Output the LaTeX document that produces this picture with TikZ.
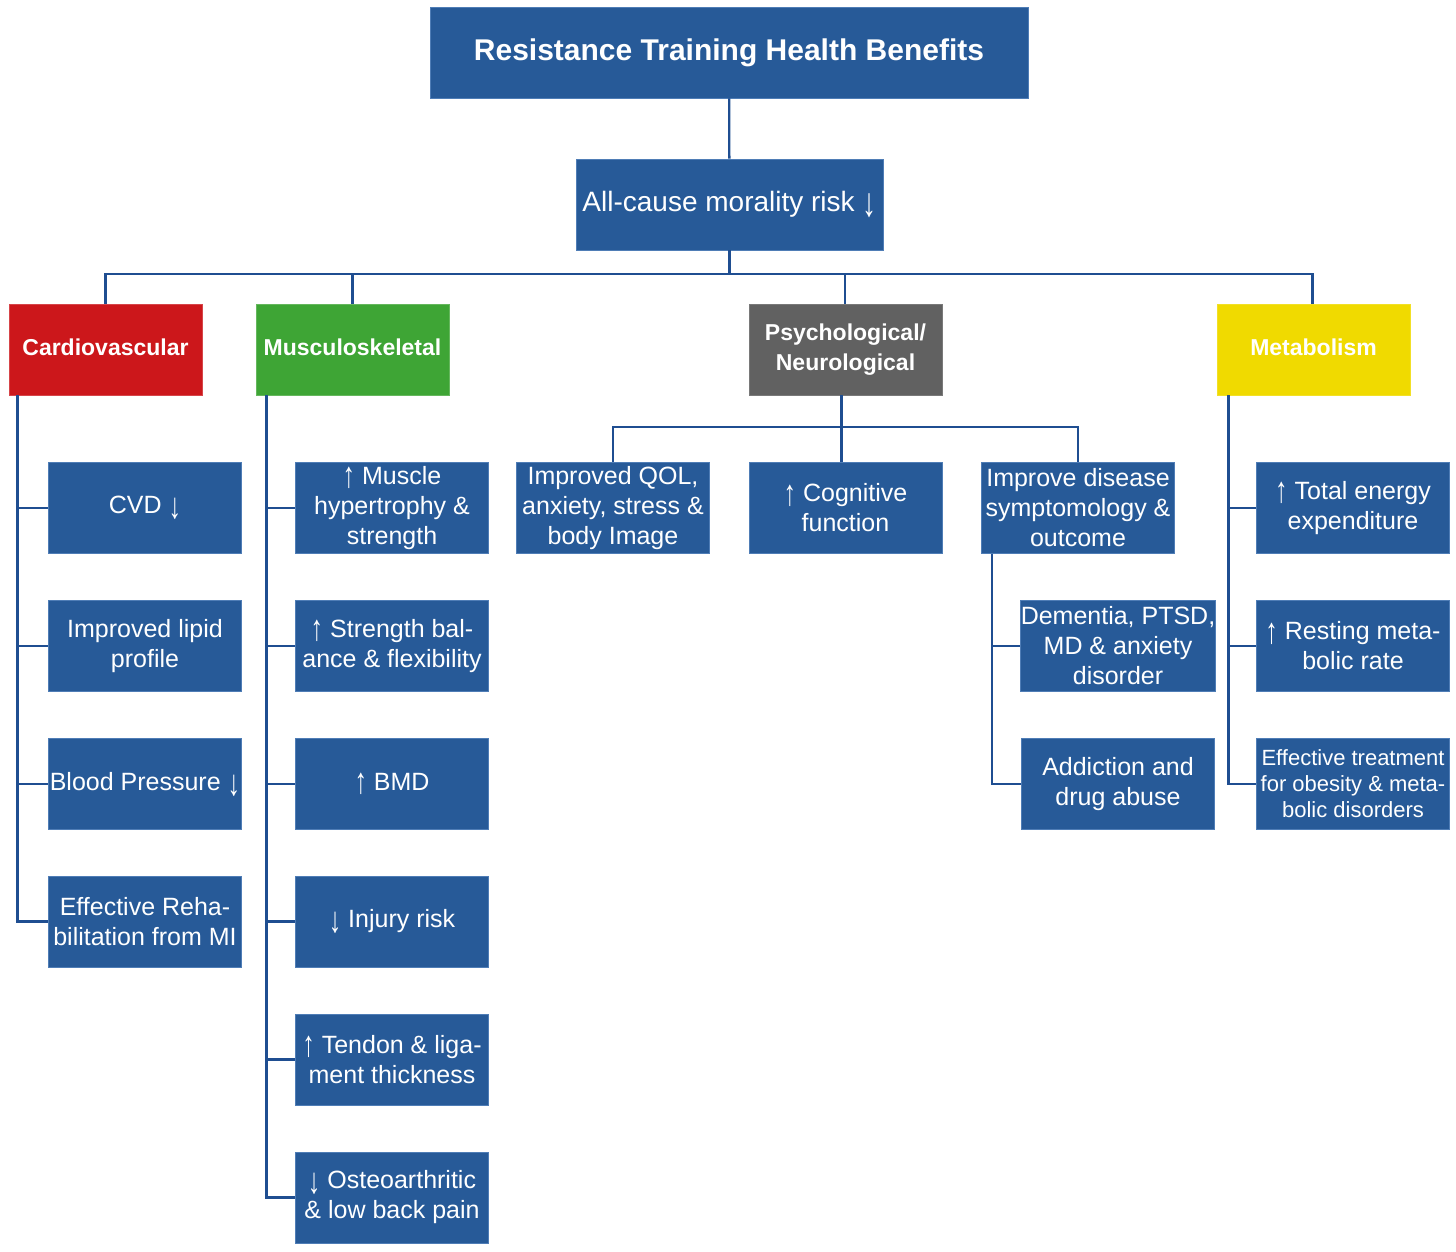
\documentclass[tikz,border=0pt]{standalone}
\usepackage{fontspec}
\usepackage{graphicx}
\setmainfont{Liberation Sans}
\newcommand\uparr{\raisebox{-0.14em}{\scalebox{1}[1.45]{↑}}}
\newcommand\dnarr{\raisebox{-0.2em}{\scalebox{1}[1.45]{↓}}}
\definecolor{boxblue}{HTML}{275A98}
\definecolor{boxedge}{HTML}{4F7DB6}
\definecolor{lineblue}{HTML}{1F4E91}
\definecolor{cvred}{HTML}{CC171B}
\definecolor{msgreen}{HTML}{3EA535}
\definecolor{psgray}{HTML}{616161}
\definecolor{mtyellow}{HTML}{F0DA00}
\begin{document}
\begin{tikzpicture}[x=1pt,y=-1pt,
  box/.style={rectangle, fill=boxblue, draw=boxedge, line width=0.8pt,
    minimum width=193pt, minimum height=91pt, inner sep=0pt, text=white,
    align=center, font=\fontsize{25}{30}\selectfont},
  smallbox/.style={box, font=\fontsize{22}{26}\selectfont},
  cat/.style={box, font=\bfseries\fontsize{23}{30}\selectfont},
  conn/.style={draw=lineblue, line width=2.3pt}]
\useasboundingbox (0,0) rectangle (1456,1252);

% top
\node[box, minimum width=598pt, font=\bfseries\fontsize{30}{36}\selectfont] (title) at (729,52.5) {\raisebox{3pt}{Resistance Training Health Benefits}};
\node[box, minimum width=307pt, font=\fontsize{28}{34}\selectfont] (allcause) at (729.5,204.5) {\raisebox{3pt}{All-cause morality risk \dnarr}};

% categories
\node[cat, fill=cvred, draw=cvred!80!white] (cardio) at (105.5,349.5) {\raisebox{4pt}{Cardiovascular}};
\node[cat, fill=msgreen, draw=msgreen!80!white] (musc) at (352.5,349.5) {\raisebox{4pt}{Musculoskeletal}};
\node[cat, fill=psgray, draw=psgray!85!white] (psych) at (845.5,349.5) {Psychological/\\Neurological};
\node[cat, fill=mtyellow, draw=mtyellow!85!white] (metab) at (1313.5,349.5) {\raisebox{4pt}{Metabolism}};

% cardiovascular
\node[box] (cvd) at (145,508) {\raisebox{4pt}{CVD \dnarr}};
\node[box] (lipid) at (145,646) {Improved lipid\\profile};
\node[box] (bp) at (145,784) {\raisebox{4pt}{Blood Pressure \dnarr}};
\node[box] (rehab) at (145,921.5) {Effective Reha-\\bilitation from MI};

% musculoskeletal
\node[box] (hyper) at (392,508) {\uparr\ Muscle\\hypertrophy \&\\strength};
\node[box] (balance) at (392,646) {\uparr\ Strength bal-\\ance \& flexibility};
\node[box] (bmd) at (392,784) {\raisebox{4pt}{\uparr\ BMD}};
\node[box] (injury) at (392,921.5) {\raisebox{4pt}{\dnarr\ Injury risk}};
\node[box] (tendon) at (392,1059.5) {\uparr\ Tendon \& liga-\\ment thickness};
\node[box] (osteo) at (392,1197.5) {\dnarr\ Osteoarthritic\\\& low back pain};

% psychological
\node[box] (qol) at (613,508) {Improved QOL,\\anxiety, stress \&\\body Image};
\node[box] (cog) at (845.5,508) {\uparr\ Cognitive\\function};
\node[box] (dis) at (1078,508) {Improve disease\\symptomology \&\\outcome};
\node[box] (dem) at (1118,646) {Dementia, PTSD,\\MD \& anxiety\\disorder};
\node[box] (addict) at (1118,784) {Addiction and\\drug abuse};

% metabolism
\node[box] (tee) at (1353,508) {\uparr\ Total energy\\expenditure};
\node[box] (rmr) at (1353,646) {\uparr\ Resting meta-\\bolic rate};
\node[smallbox] (obes) at (1353,784) {Effective treatment\\for obesity \& meta-\\bolic disorders};

% connectors: top
\draw[conn] (title) -- (allcause);
\coordinate (bus) at (729.5,274);
\draw[conn] (allcause.south) -- (bus);
\draw[conn] (bus) -| (cardio.north);
\draw[conn] (bus) -| (musc.north);
\draw[conn] (bus) -| ([xshift=-0.5pt]psych.north);
\draw[conn] (bus) -| ([xshift=-1pt]metab.north);

% cardiovascular trunk
\coordinate (ct) at ([xshift=9pt]cardio.south west);
\draw[conn] (ct) |- (cvd.west);
\draw[conn] (ct) |- (lipid.west);
\draw[conn] (ct) |- (bp.west);
\draw[conn] (ct) |- (rehab.west);

% musculoskeletal trunk
\coordinate (mt) at ([xshift=11pt]musc.south west);
\draw[conn] (mt) |- (hyper.west);
\draw[conn] (mt) |- (balance.west);
\draw[conn] (mt) |- (bmd.west);
\draw[conn] (mt) |- (injury.west);
\draw[conn] (mt) |- (tendon.west);
\draw[conn] (mt) |- (osteo.west);

% psychological
\coordinate (pb) at (841,427);
\draw[conn] ([xshift=-4pt]psych.south) -- ([xshift=-4pt]cog.north);
\draw[conn] (qol.north) |- (pb) -| (dis.north);
\coordinate (dt) at ([xshift=11pt]dis.south west);
\draw[conn] (dt) |- (dem.west);
\draw[conn] (dt) |- (addict.west);

% metabolism trunk
\coordinate (mbt) at ([xshift=12pt]metab.south west);
\draw[conn] (mbt) |- (tee.west);
\draw[conn] (mbt) |- (rmr.west);
\draw[conn] (mbt) |- (obes.west);
\end{tikzpicture}
\end{document}
